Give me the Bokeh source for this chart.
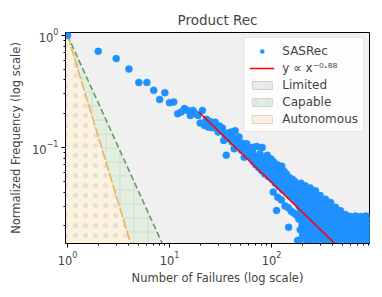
import numpy as np
from bokeh.plotting import figure
from bokeh.models import Legend, LegendItem, Range1d, FixedTicker, LogTickFormatter
from bokeh.embed import file_html
from bokeh.resources import INLINE

# ---- data ----
head_x = [1, 2, 3, 4, 5, 6, 7, 8, 9, 10, 11, 12, 13, 14, 15, 16, 17, 18, 19]
head_y = [1.0, 0.72, 0.62, 0.50, 0.38, 0.38, 0.323, 0.268, 0.308, 0.251, 0.254,
          0.200, 0.207, 0.222, 0.214, 0.193, 0.214, 0.200, 0.193]

mid_x = [20, 21, 22, 23, 24, 25, 26, 27, 28, 29, 30, 31, 32, 33, 34, 35, 36, 37, 38, 39,
         40, 41, 42, 43, 44, 45, 46, 47, 48, 49, 50, 51, 52, 53, 54, 55, 56, 57, 58, 59, 60]
mid_y = [0.165, 0.214, 0.157, 0.178, 0.152, 0.170, 0.150, 0.160, 0.168, 0.147, 0.137,
         0.155, 0.140, 0.149, 0.1155, 0.128, 0.0853, 0.134, 0.120, 0.126, 0.137, 0.112,
         0.123, 0.0974, 0.141, 0.1155, 0.105, 0.118, 0.124, 0.100, 0.110, 0.094, 0.105,
         0.108, 0.0819, 0.099, 0.090, 0.108, 0.085, 0.095, 0.1006]

band_x = [62, 63, 65, 66, 67, 69, 70, 72, 74, 75, 77, 78, 80, 81, 83, 85, 86, 88, 90, 91,
          93, 95, 97, 99, 101, 103, 104, 105, 107, 109, 111, 112, 114, 115, 116, 118, 120,
          122, 124, 125, 126, 128, 130, 133, 135, 136, 138, 140, 142, 145, 146, 147, 149,
          151, 154, 156, 157, 160, 163, 165, 166, 168, 171, 174, 175, 177, 180, 182, 185,
          186, 188, 190]
band_y = [0.088, 0.080, 0.092, 0.075, 0.1006, 0.083, 0.070, 0.102, 0.078, 0.066, 0.088,
          0.072, 0.062, 0.100, 0.080, 0.068, 0.058, 0.075, 0.064, 0.085, 0.055, 0.070,
          0.060, 0.079, 0.052, 0.066, 0.040, 0.074, 0.057, 0.048, 0.062, 0.0274, 0.070,
          0.036, 0.053, 0.045, 0.064, 0.058, 0.049, 0.034, 0.068, 0.042, 0.055, 0.061,
          0.047, 0.030, 0.040, 0.058, 0.051, 0.044, 0.029, 0.0194, 0.054, 0.037, 0.048,
          0.027, 0.042, 0.052, 0.035, 0.026, 0.045, 0.050, 0.039, 0.033, 0.025, 0.046,
          0.0148, 0.041, 0.023, 0.030, 0.036, 0.044]

tail_x = [194, 198, 192, 196, 200, 193, 197, 195, 199, 191, 202, 189,
          214, 218, 211, 216, 220, 213, 217, 210, 219, 212, 215, 221,
          240, 236, 244, 238, 242, 246, 237, 243, 239, 245, 241, 235,
          270, 266, 274, 268, 272, 276, 265, 271, 267, 275, 269,
          300, 306, 297, 303, 308, 299, 304, 301, 307, 298,
          338, 333, 342, 336, 344, 334, 340, 337, 343, 335,
          380, 374, 385, 377, 383, 372, 388, 378, 384,
          424, 418, 430, 421, 427, 416, 432, 423,
          475, 468, 481, 471, 478, 465, 484, 473,
          531, 524, 538, 527, 535, 520, 542,
          595, 588, 602, 591, 599, 584, 606,
          666, 658, 674, 662, 670, 655, 678,
          746, 738, 754, 742, 750, 734, 758,
          835, 826, 845, 830, 840, 820, 850,
          893, 886, 900, 889, 897, 884, 904]
tail_y = [0.0480, 0.0425, 0.0385, 0.0345, 0.0310, 0.0278, 0.0250, 0.0225, 0.0203, 0.0184, 0.0166, 0.0149,
          0.0455, 0.0410, 0.0372, 0.0336, 0.0302, 0.0272, 0.0246, 0.0222, 0.0200, 0.0181, 0.0163, 0.0147,
          0.0435, 0.0398, 0.0360, 0.0325, 0.0293, 0.0265, 0.0240, 0.0217, 0.0196, 0.0177, 0.0160, 0.0146,
          0.0410, 0.0372, 0.0338, 0.0306, 0.0277, 0.0250, 0.0226, 0.0204, 0.0185, 0.0167, 0.0150,
          0.0372, 0.0340, 0.0310, 0.0280, 0.0253, 0.0228, 0.0206, 0.0187, 0.0169, 0.0152,
          0.0345, 0.0315, 0.0287, 0.0260, 0.0236, 0.0213, 0.0193, 0.0175, 0.0158, 0.0145,
          0.0322, 0.0294, 0.0267, 0.0243, 0.0220, 0.0200, 0.0181, 0.0165, 0.0149,
          0.0292, 0.0266, 0.0243, 0.0220, 0.0200, 0.0182, 0.0166, 0.0150,
          0.0272, 0.0250, 0.0228, 0.0207, 0.0189, 0.0172, 0.0156, 0.0146,
          0.0252, 0.0232, 0.0212, 0.0195, 0.0178, 0.0163, 0.0150,
          0.0242, 0.0224, 0.0206, 0.0190, 0.0174, 0.0160, 0.0148,
          0.0244, 0.0225, 0.0207, 0.0190, 0.0175, 0.0161, 0.0148,
          0.0242, 0.0222, 0.0205, 0.0189, 0.0174, 0.0160, 0.0148,
          0.0244, 0.0225, 0.0207, 0.0190, 0.0175, 0.0161, 0.0148,
          0.0240, 0.0220, 0.0203, 0.0187, 0.0172, 0.0158, 0.0146]

fit_exponent = -0.88
fit_coef = 2.81
fit_x = [19.5, 950]
capable_exponent = -2.0
autonomous_exponent = -3.0

y_major_ticks = [0.1, 1.0]
y_minor_ticks = [0.02, 0.03, 0.04, 0.05, 0.06, 0.07, 0.08, 0.09,
                 0.2, 0.3, 0.4, 0.5, 0.6, 0.7, 0.8, 0.9]

title = "Product Rec"
x_label = "Number of Failures (log scale)"
y_label = "Normalized Frequency (log scale)"
legend_labels = ["SASRec", "y \u221d x\u207b\u2070\u00b7\u2078\u2078", "Limited", "Capable", "Autonomous"]

# ---- figure ----
X0, X1 = 0.955, 913
Y0, Y1 = 0.0139, 1.06
p = figure(width=382, height=297, x_axis_type="log", y_axis_type="log",
           x_range=Range1d(X0, X1), y_range=Range1d(Y0, Y1),
           output_backend="svg", toolbar_location=None,
           min_border_left=65, min_border_top=32, min_border_right=13, min_border_bottom=54,
           background_fill_color="#f0f0f0", border_fill_color="white")
p.title.text = title
p.title.align = "center"
p.title.text_font = "DejaVu Sans"
p.title.text_font_size = "13.5px"
p.title.text_font_style = "normal"
p.grid.visible = False
p.outline_line_color = "black"
p.outline_line_width = 1

for ax in (p.xaxis[0], p.yaxis[0]):
    ax.axis_label_text_font = "DejaVu Sans"
    ax.axis_label_text_font_size = "11.5px"
    ax.axis_label_text_font_style = "normal"
    ax.major_label_text_font = "DejaVu Sans"
    ax.major_label_text_font_size = "11.5px"
    ax.major_tick_in = 0
    ax.major_tick_out = 4
    ax.minor_tick_in = 0
    ax.minor_tick_out = 2
    ax.axis_line_color = "black"
p.xaxis.axis_label = x_label
p.yaxis.axis_label = y_label
p.yaxis.ticker = FixedTicker(ticks=y_major_ticks, minor_ticks=y_minor_ticks)
p.yaxis.formatter = LogTickFormatter()
p.xaxis.major_label_standoff = 3
p.yaxis.major_label_standoff = 3
p.xaxis.axis_label_standoff = 3
p.yaxis.axis_label_standoff = 6

# region curves (model curves y = x^k)
cx = np.geomspace(1.0, 12.0, 80)
green_y = cx ** capable_exponent
orange_y = cx ** autonomous_exponent
poly_x = [0.9, 0.9] + list(cx) + [12.0]
p.patch(poly_x, [1e-3, 1.0] + list(green_y) + [1e-3], fill_color="#e4efe2", line_alpha=0,
        hatch_pattern="cross", hatch_color="#d3dbd3", hatch_scale=14, hatch_weight=1)
p.patch(poly_x, [1e-3, 1.0] + list(orange_y) + [1e-3], fill_color="#fdf2e0", line_alpha=0,
        hatch_pattern="dot", hatch_color="#e3e0da", hatch_scale=10, hatch_weight=1)
p.line(list(cx), list(green_y), line_color="#5f9f5f", line_width=1.6, line_dash="6 3")
p.line(list(cx), list(orange_y), line_color="#ecb35a", line_width=1.6, line_dash="10 2")

all_x = head_x + mid_x + band_x + tail_x
all_y = head_y + mid_y + band_y + tail_y
sc = p.scatter(all_x, all_y, size=7, fill_color="#1e90ff", line_color="#1e90ff", line_width=0.5)

fy = [fit_coef * v ** fit_exponent for v in fit_x]
fl = p.line(fit_x, fy, line_color="red", line_width=1.6)

# legend-only renderers (placed outside the visible ranges)
off = dict(left=[1e-6], right=[2e-6], bottom=[1e-6], top=[2e-6])
lim = p.quad(**off, fill_color="#ebebeb", line_color="#cfcfcf", line_width=1)
cap = p.quad(**off, fill_color="#e2eee0", line_color="#cfd6cf", line_width=1,
             hatch_pattern="vertical_line", hatch_color="#d0d8d0", hatch_scale=12, hatch_weight=1)
aut = p.quad(**off, fill_color="#fcf0dc", line_color="#d8d2c8", line_width=1)

legend = Legend(items=[LegendItem(label=legend_labels[0], renderers=[sc]),
                       LegendItem(label=legend_labels[1], renderers=[fl]),
                       LegendItem(label=legend_labels[2], renderers=[lim]),
                       LegendItem(label=legend_labels[3], renderers=[cap]),
                       LegendItem(label=legend_labels[4], renderers=[aut])],
                location="top_right")
legend.margin = 5
legend.padding = 5
legend.spacing = 2
legend.label_height = 15
legend.glyph_height = 10
legend.glyph_width = 25
legend.label_standoff = 8
legend.label_text_font = "DejaVu Sans"
legend.label_text_font_size = "12px"
legend.border_line_color = "#cccccc"
legend.background_fill_alpha = 0.85
p.add_layout(legend)

open("out.html", "w").write(file_html(p, INLINE))
